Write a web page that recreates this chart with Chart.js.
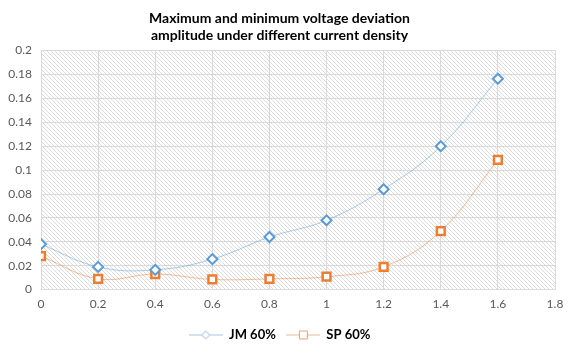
<!DOCTYPE html>
<html>
<head>
<meta charset="utf-8">
<script src="https://cdn.jsdelivr.net/npm/chart.js@4"></script>
<style>
  html, body { margin: 0; padding: 0; background: #fff; }
  #wrap { width: 574px; height: 353px; }
</style>
</head>
<body>
<div id="wrap"><canvas id="voltChart"></canvas></div>
<script>
const currentDensity = [0, 0.2, 0.4, 0.6, 0.8, 1, 1.2, 1.4, 1.6];
const jm60 = [0.038, 0.019, 0.0165, 0.0255, 0.044, 0.058, 0.084, 0.120, 0.1765];
const sp60 = [0.028, 0.009, 0.013, 0.0085, 0.009, 0.0108, 0.019, 0.049, 0.1085];

const blue = '#5b9bd5';
const orange = '#ed7d31';

// hatched background for the plot area
function makeHatch() {
  const c = document.createElement('canvas');
  c.width = 4; c.height = 4;
  const g = c.getContext('2d');
  g.fillStyle = '#fff';
  g.fillRect(0, 0, 4, 4);
  g.fillStyle = '#dcdcdc';
  for (let i = 0; i < 4; i++) g.fillRect(i, i, 1, 1);
  return c;
}

const hatchPlugin = {
  id: 'hatch',
  beforeDraw(chart) {
    const { ctx, chartArea: a } = chart;
    ctx.save();
    ctx.fillStyle = ctx.createPattern(makeHatch(), 'repeat');
    ctx.fillRect(a.left, a.top, a.right - a.left, a.bottom - a.top);
    ctx.restore();
  }
};

// legend symbol: line with marker
function legendIcon(lineColor, markColor, shape) {
  const c = document.createElement('canvas');
  c.width = 34; c.height = 12;
  const g = c.getContext('2d');
  g.strokeStyle = lineColor;
  g.lineWidth = 1;
  g.beginPath(); g.moveTo(0, 6.5); g.lineTo(34, 6.5); g.stroke();
  g.fillStyle = '#fff';
  g.strokeStyle = markColor;
  g.lineWidth = 1;
  g.beginPath();
  if (shape === 'diamond') {
    g.moveTo(17, 2.5); g.lineTo(21, 6.5); g.lineTo(17, 10.5); g.lineTo(13, 6.5); g.closePath();
  } else {
    g.rect(13.5, 2.5, 8, 8);
  }
  g.fill(); g.stroke();
  return c;
}
const icons = [legendIcon('#a8c2de', '#8fb3da', 'diamond'), legendIcon('#f0b990', '#e8a070', 'square')];

const tickFmt = v => String(Number(v.toFixed(2)));
const tickFont = { family: 'Lato', size: 12 };

const ctx = document.getElementById('voltChart').getContext('2d');
new Chart(ctx, {
  type: 'line',
  data: {
    datasets: [
      {
        label: 'JM 60%',
        data: currentDensity.map((x, i) => ({ x: x, y: jm60[i] })),
        borderColor: 'rgba(91,155,213,0.5)',
        borderWidth: 1,
        pointStyle: 'rectRot',
        pointRadius: 5,
        pointBorderWidth: 2,
        pointBorderColor: blue,
        pointBackgroundColor: '#fff',
        tension: 0.4
      },
      {
        label: 'SP 60%',
        data: currentDensity.map((x, i) => ({ x: x, y: sp60[i] })),
        borderColor: 'rgba(237,125,49,0.5)',
        borderWidth: 1,
        pointStyle: 'rect',
        pointRadius: 5.5,
        pointBorderWidth: 2.5,
        pointBorderColor: orange,
        pointBackgroundColor: '#fff',
        tension: 0.4
      }
    ]
  },
  options: {
    responsive: true,
    maintainAspectRatio: false,
    animation: false,
    layout: { padding: { left: 4, right: 19, top: 0, bottom: 2 } },
    plugins: {
      title: {
        display: true,
        text: ['Maximum and minimum voltage deviation', 'amplitude under different current density'],
        font: { family: 'Lato', size: 14, weight: 'bold' },
        color: '#000',
        padding: { top: 10, bottom: 7 },
        lineHeight: 1.15
      },
      legend: {
        position: 'bottom',
        labels: {
          usePointStyle: true,
          pointStyleWidth: 34,
          boxHeight: 12,
          padding: 10,
          color: '#000',
          font: { family: 'Lato', size: 13, weight: 'bold' },
          generateLabels(chart) {
            return chart.data.datasets.map((d, i) => ({
              text: d.label,
              pointStyle: icons[i],
              datasetIndex: i,
              fillStyle: '#fff',
              strokeStyle: '#fff',
              lineWidth: 0
            }));
          }
        }
      },
      tooltip: { enabled: false }
    },
    scales: {
      x: {
        type: 'linear',
        min: 0,
        max: 1.8,
        ticks: { stepSize: 0.2, color: '#595959', font: tickFont, padding: 7, callback: tickFmt },
        grid: { color: '#d9d9d9', drawTicks: false },
        border: { color: '#d9d9d9' }
      },
      y: {
        min: 0,
        max: 0.2,
        ticks: { stepSize: 0.02, color: '#595959', font: tickFont, padding: 9, callback: tickFmt },
        grid: { color: '#d9d9d9', drawTicks: false },
        border: { color: '#d9d9d9' },
        afterFit(s) { s.width = 37; }
      }
    }
  },
  plugins: [hatchPlugin]
});
</script>
</body>
</html>
